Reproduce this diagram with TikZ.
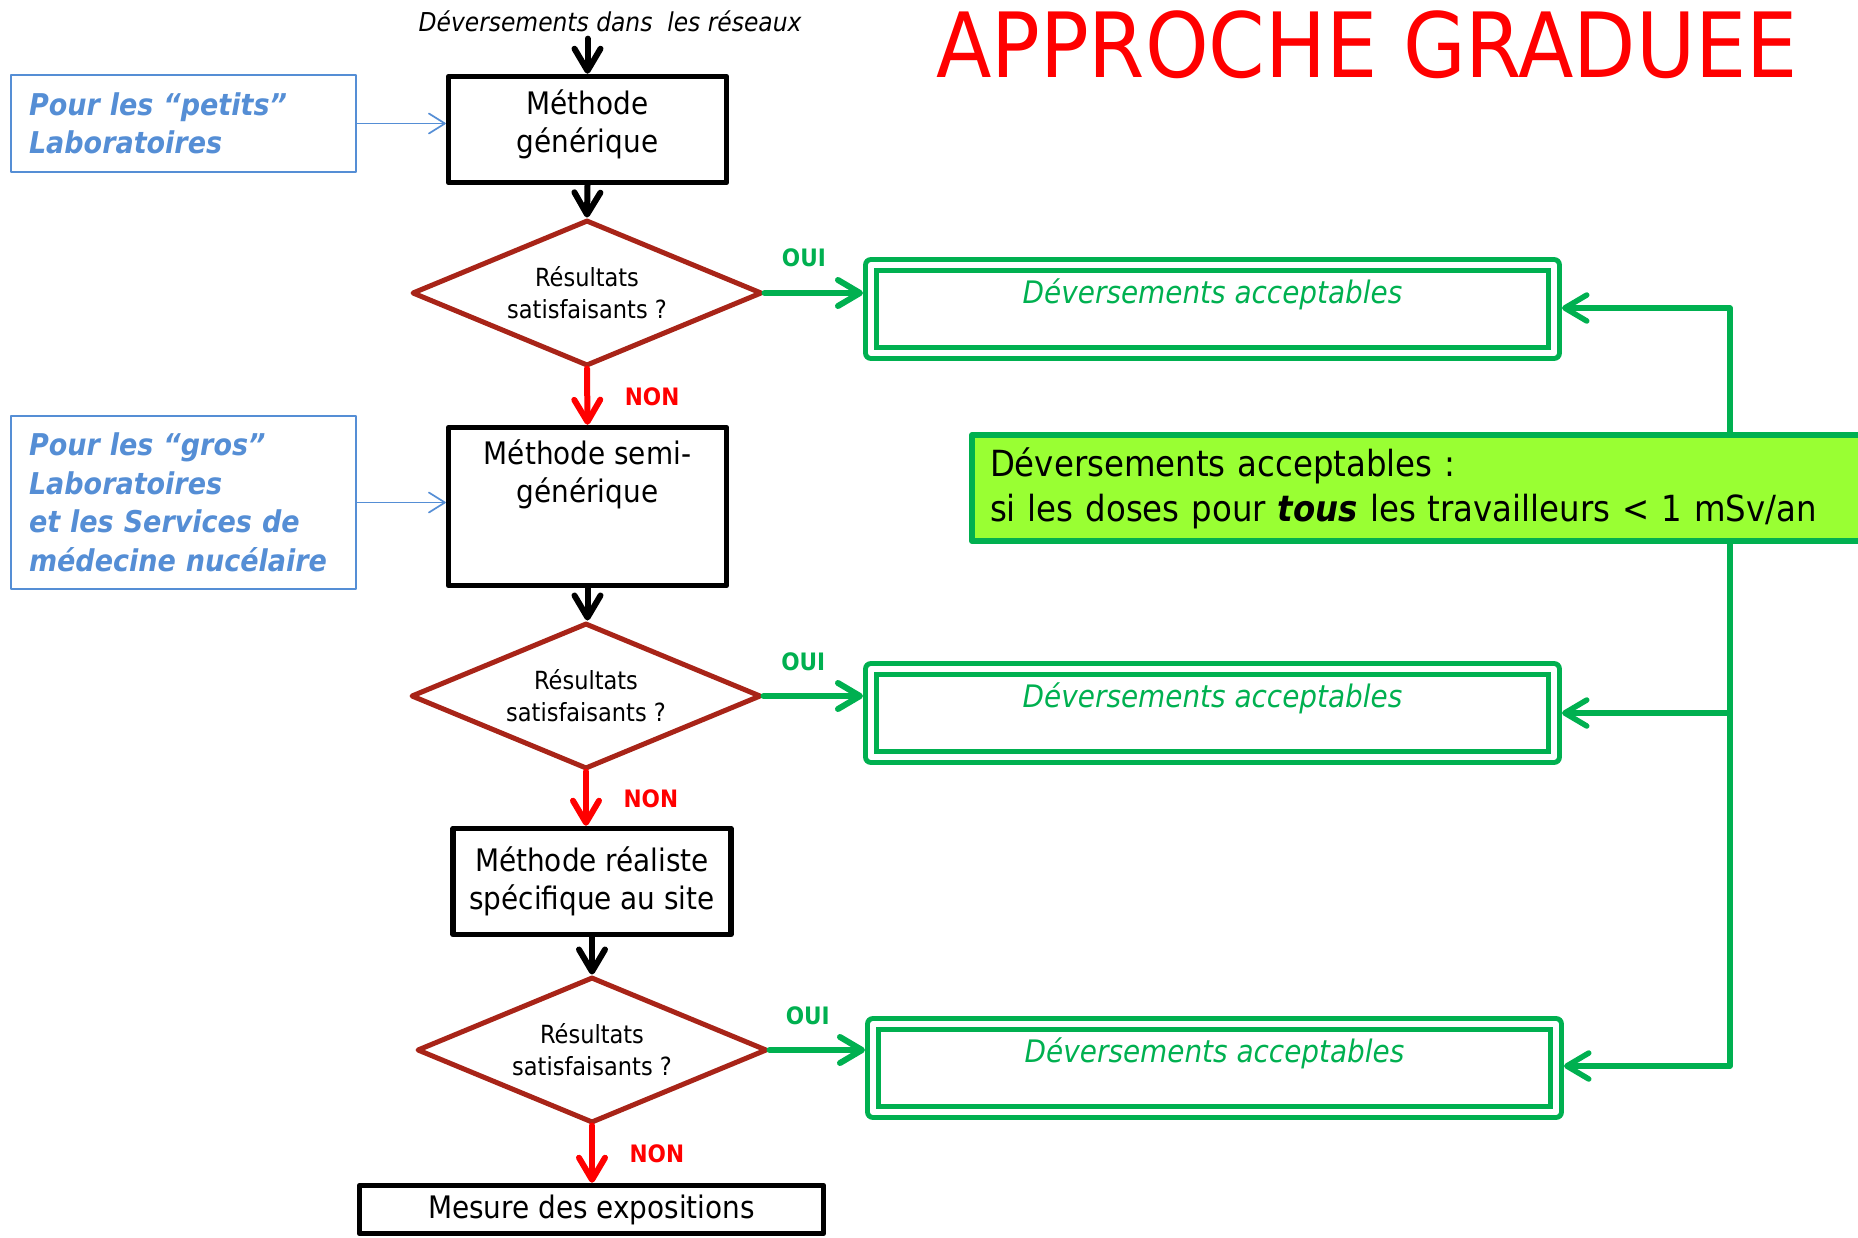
\documentclass[tikz,border=0pt]{standalone}
\usepackage{fontspec}
\setmainfont{DejaVu Sans Condensed}
\usetikzlibrary{shapes.geometric,arrows.meta}

\definecolor{titlered}{RGB}{255,0,0}
\definecolor{okgreen}{RGB}{0,176,80}
\definecolor{limefill}{RGB}{153,255,51}
\definecolor{labblue}{RGB}{85,142,213}
\definecolor{testred}{RGB}{168,36,24}

\begin{document}
\begin{tikzpicture}[x=0.5pt, y=-0.5pt, line cap=round, line join=round,
    chev/.tip={Straight Barb[round, length=11pt, width=13pt]},
    thinchev/.tip={Straight Barb[round, length=8pt, width=10pt]},
    methodbox/.style={draw, line width=2.75pt, align=center, inner sep=0pt,
      minimum width=139pt, font=\fontsize{15.5}{19}\selectfont},
    testdiamond/.style={diamond, aspect=2.4, draw=testred, line width=2.5pt, align=center,
      inner sep=0pt, minimum width=175pt, minimum height=73pt,
      font=\fontsize{12.5}{16}\selectfont},
    notebox/.style={draw=labblue, line width=0.85pt, text=labblue, align=left,
      inner xsep=9pt, minimum width=172.5pt, text width=154.5pt,
      font=\fontsize{15}{19.25}\selectfont\bfseries\itshape},
    accbox/.style={draw=okgreen, double=white, line width=2.5pt, double distance=3pt,
      outer sep=4pt, minimum width=341.5pt, minimum height=44pt, text=okgreen,
      text height=11pt, text depth=17pt, font=\fontsize{15.5}{19}\selectfont\itshape},
    blackflow/.style={-chev, line width=3pt},
    ouiflow/.style={-chev, okgreen, line width=3pt},
    nonflow/.style={-chev, titlered, line width=3pt},
    noteflow/.style={-thinchev, labblue, line width=0.85pt},
    busflow/.style={-chev, okgreen, line width=2.75pt},
    ouitext/.style={text=okgreen, font=\fontsize{12}{14}\selectfont\bfseries},
    nontext/.style={text=titlered, font=\fontsize{12}{14}\selectfont\bfseries}]

  % page frame (reference proportions)
  \useasboundingbox (0,0) rectangle (1858,1237);

  % Title and input text
  \node[text=titlered, font=\fontsize{45}{50}\selectfont] (title) at (1367,45) {APPROCHE GRADUEE};
  \node[font=\fontsize{13}{15}\selectfont\itshape] (inflow) at (610,21) {Déversements dans\ \ les réseaux};

  % Left column: methods and tests
  \node[methodbox, minimum height=53pt, text depth=8pt] (gen) at (587.5,129.5) {Méthode\\générique};
  \node[testdiamond] (d1) at (587,293) {Résultats\\satisfaisants ?};
  \node[methodbox, minimum height=79pt,
        label={[align=center, anchor=north, yshift=-4pt, font=\fontsize{15.5}{19}\selectfont]north:Méthode semi-\\générique}]
        (semi) at (587.5,506.5) {};
  \node[testdiamond] (d2) at (586,696) {Résultats\\satisfaisants ?};
  \node[methodbox, minimum height=53pt] (real) at (592,881.5) {Méthode réaliste\\spécifique au site};
  \node[testdiamond] (d3) at (592,1050) {Résultats\\satisfaisants ?};
  \node[methodbox, minimum width=232pt, minimum height=24pt] (mesure) at (591.5,1209.5) {Mesure des expositions};

  % Blue notes on the left
  \node[notebox, minimum height=48.5pt] (petits) at (183.5,123.5) {Pour les “petits”\\Laboratoires};
  \node[notebox, minimum height=86.5pt] (gros) at (183.5,502.5) {Pour les “gros”\\Laboratoires\\et les Services de\\médecine nucélaire};

  % Green acceptance boxes
  \node[accbox] (acc1) at (1212.5,309) {Déversements acceptables};
  \node[accbox] (acc2) at (1212.5,713) {Déversements acceptables};
  \node[accbox] (acc3) at (1214.5,1068) {Déversements acceptables};

  % Criterion box (runs past the right edge)
  \node[draw=okgreen, fill=limefill, line width=3pt, align=left, inner xsep=9pt,
        minimum width=459pt, minimum height=53pt, text width=441pt,
        font=\fontsize{18}{22.5}\selectfont] (crit) at (1431,488)
        {Déversements acceptables :\\si les doses pour \textbf{\textit{tous}} les travailleurs < 1 mSv/an};

  % Bus corners
  \coordinate (busTop) at (1730,308);
  \coordinate (busBot) at (1730,1066);

  % Main flow
  \draw[blackflow] (gen.north |- inflow.south) -- (gen.north);
  \draw[blackflow] (gen.south) -- (d1.north);
  \draw[nonflow] (d1.south) -- (semi.north) node[midway, right=14pt, nontext] {NON};
  \draw[blackflow] (semi.south) -- (semi.south |- d2.north);
  \draw[nonflow] (d2.south) -- (d2.south |- real.north) node[midway, right=14pt, nontext] {NON};
  \draw[blackflow] (real.south) -- (d3.north);
  \draw[nonflow] (d3.south) -- (d3.south |- mesure.north) node[midway, right=14pt, nontext] {NON};

  % OUI branches
  \draw[ouiflow] (d1.east) -- (d1.east -| acc1.west) node[pos=0.4, above=8pt, ouitext] {OUI};
  \draw[ouiflow] (d2.east) -- (d2.east -| acc2.west) node[pos=0.4, above=8pt, ouitext] {OUI};
  \draw[ouiflow] (d3.east) -- (d3.east -| acc3.west) node[pos=0.4, above=8pt, ouitext] {OUI};

  % Notes pointing at the methods
  \draw[noteflow] (petits.east) -- (petits.east -| gen.west);
  \draw[noteflow] (gros.east) -- (gros.east -| semi.west);

  % Criterion feeding the acceptance boxes
  \draw[busflow] (crit.north -| busTop) -- (busTop) -- (busTop -| acc1.east);
  \draw[busflow] (crit.south -| busBot) -- (busBot) -- (busBot -| acc3.east);
  \draw[busflow] (busBot |- acc2.east) -- (acc2.east);
\end{tikzpicture}
\end{document}
